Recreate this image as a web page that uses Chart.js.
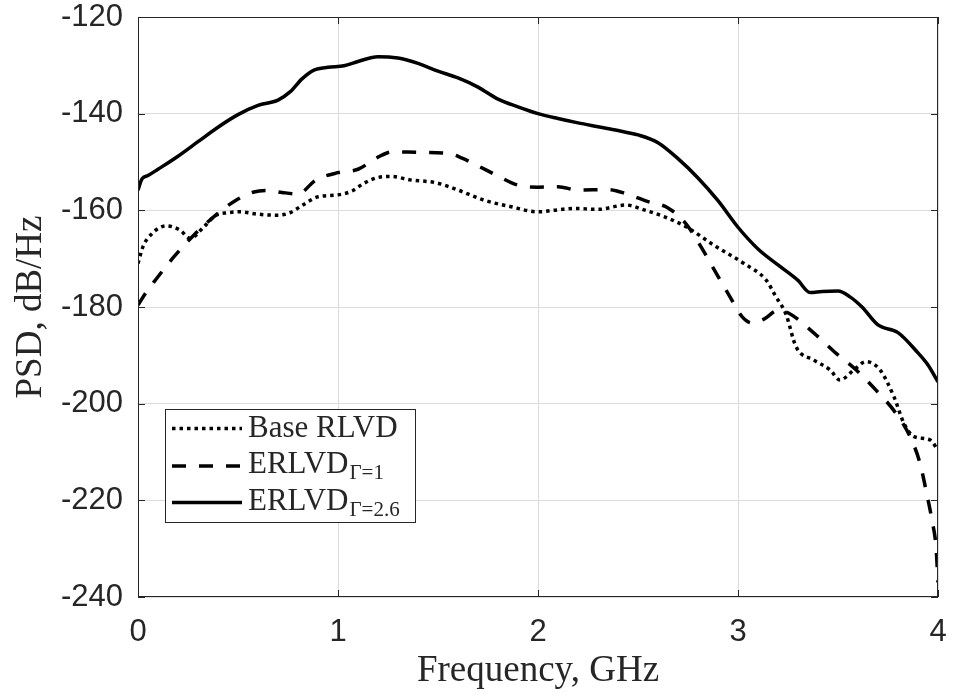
<!DOCTYPE html>
<html>
<head>
<meta charset="utf-8">
<script src="https://cdn.jsdelivr.net/npm/chart.js@4"></script>
<style>
  html, body { margin: 0; padding: 0; background: #ffffff; }
  canvas { display: block; }
</style>
</head>
<body>
<canvas id="c" width="953" height="698"></canvas>
<script>
// ---- Data ----
const xTickLabels = ['0', '1', '2', '3', '4'];
const yTickLabels = ['-240', '-220', '-200', '-180', '-160', '-140', '-120'];

const legendNames = ['Base RLVD', 'ERLVD', 'ERLVD'];
const legendSubs = ['', '\u0393=1', '\u0393=2.6'];

const freqBase = [0, 0.025, 0.07, 0.14, 0.21, 0.26, 0.33, 0.39, 0.45, 0.51, 0.6, 0.7, 0.76, 0.82, 0.9, 1.0, 1.07, 1.13, 1.2, 1.27, 1.36, 1.49, 1.6, 1.73, 1.86, 2.0, 2.1, 2.18, 2.3, 2.44, 2.53, 2.63, 2.74, 2.89, 3.03, 3.14, 3.19, 3.24, 3.29, 3.38, 3.46, 3.51, 3.58, 3.64, 3.71, 3.78, 3.83, 3.88, 3.96, 4.0];
const psdBase = [-171, -167.5, -164.8, -163.2, -164.1, -165.8, -163.4, -161, -160.5, -160.3, -160.8, -161, -160.5, -159, -157.2, -156.8, -156, -154.4, -153.2, -153, -153.7, -154.3, -155.8, -157.9, -159.2, -160.3, -159.9, -159.6, -159.8, -158.9, -159.9, -161.3, -163.4, -167.5, -171, -174.4, -177.9, -181.5, -188.2, -191, -193, -195.1, -193, -191.3, -193, -198.6, -204.1, -206.8, -207.5, -209.6];

const freqG1 = [0, 0.04, 0.08, 0.18, 0.28, 0.38, 0.49, 0.58, 0.65, 0.72, 0.8, 0.89, 1.0, 1.1, 1.2, 1.27, 1.4, 1.55, 1.62, 1.7, 1.8, 1.9, 2.0, 2.1, 2.2, 2.35, 2.45, 2.55, 2.65, 2.74, 2.8, 2.88, 2.96, 3.02, 3.07, 3.13, 3.2, 3.25, 3.38, 3.48, 3.59, 3.69, 3.79, 3.86, 3.91, 3.94, 3.97, 3.99, 4.0];
const psdG1 = [-179.6, -177, -174.8, -169.6, -165.1, -161.3, -157.9, -156.2, -155.9, -156.3, -156.6, -153.7, -152.2, -151.5, -149, -147.9, -148, -148.2, -149.2, -150.8, -152.9, -154.8, -155.2, -155.1, -155.8, -155.7, -156.7, -158.2, -159.5, -162.8, -166.5, -172.2, -177.9, -182.0, -183.3, -182.5, -180.7, -181.2, -185.4, -189.2, -193, -197.2, -202, -206.8, -212.3, -217.9, -224.1, -229.6, -237];

const freqG26 = [0, 0.02, 0.05, 0.1, 0.2, 0.3, 0.4, 0.5, 0.6, 0.7, 0.76, 0.82, 0.88, 0.95, 1.03, 1.1, 1.2, 1.3, 1.4, 1.5, 1.6, 1.7, 1.8, 1.9, 2.0, 2.1, 2.2, 2.3, 2.4, 2.5, 2.6, 2.7, 2.8, 2.9, 3.0, 3.1, 3.2, 3.3, 3.36, 3.42, 3.5, 3.56, 3.62, 3.7, 3.8, 3.9, 3.95, 4.0];
const psdG26 = [-155.8, -153.5, -152.8, -151.5, -148.8, -145.8, -142.8, -140.2, -138.3, -137.2, -135.5, -132.8, -131.0, -130.4, -130.1, -129.2, -128.2, -128.5, -129.6, -131.2, -132.6, -134.5, -137.0, -138.6, -140.0, -141.0, -141.9, -142.7, -143.5, -144.4, -146.0, -149.3, -153.3, -158.0, -163.5, -168.0, -171.3, -174.5, -177.0, -176.8, -176.7, -177.9, -180.0, -183.7, -185.3, -189.5, -192.0, -195.5];

function pts(xs, ys) { return xs.map((x, i) => ({ x: x, y: ys[i] })); }

const INK = '#262626';
const SERIF = '"Liberation Serif", "Times New Roman", serif';
const SANS = '"Liberation Sans", Arial, Helvetica, sans-serif';

const datasets = [
  { label: legendNames[0], data: pts(freqBase, psdBase), borderColor: '#000', borderWidth: 3.5, borderDash: [3.5, 4], borderCapStyle: 'butt' },
  { label: legendNames[1], data: pts(freqG1, psdG1), borderColor: '#000', borderWidth: 3.5, borderDash: [14, 13], borderCapStyle: 'butt' },
  { label: legendNames[2], data: pts(freqG26, psdG26), borderColor: '#000', borderWidth: 3.5, borderDash: [], borderCapStyle: 'butt' }
];
datasets.forEach(d => { d.pointRadius = 0; d.fill = false; d.cubicInterpolationMode = 'monotone'; });

function zeroPad(s) { s.paddingTop = 0; s.paddingBottom = 0; s.paddingLeft = 0; s.paddingRight = 0; }

const decorPlugin = {
  id: 'decor',
  afterDatasetsDraw(chart) {
    const ctx = chart.ctx;
    const a = chart.chartArea;
    const xs = chart.scales.x, ys = chart.scales.y;
    ctx.save();
    ctx.strokeStyle = INK;
    ctx.lineWidth = 1;
    // box
    ctx.strokeRect(Math.round(a.left) + 0.5, Math.round(a.top) + 0.5, Math.round(a.right - a.left) - 1, Math.round(a.bottom - a.top) - 1);
    // inward ticks
    const tl = 7;
    ctx.beginPath();
    xTickLabels.forEach(t => {
      const px = Math.round(xs.getPixelForValue(parseFloat(t))) + 0.5;
      ctx.moveTo(px, a.bottom); ctx.lineTo(px, a.bottom - tl);
      ctx.moveTo(px, a.top); ctx.lineTo(px, a.top + tl);
    });
    yTickLabels.forEach(t => {
      const py = Math.round(ys.getPixelForValue(parseFloat(t))) + 0.5;
      ctx.moveTo(a.left, py); ctx.lineTo(a.left + tl, py);
      ctx.moveTo(a.right, py); ctx.lineTo(a.right - tl, py);
    });
    ctx.stroke();

    // legend
    const bx = 165.5, by = 409.5, bw = 250, bh = 113;
    ctx.fillStyle = '#ffffff';
    ctx.fillRect(bx, by, bw, bh);
    ctx.strokeStyle = INK;
    ctx.lineWidth = 1;
    ctx.strokeRect(bx, by, bw, bh);
    const lineY = [428.5, 466, 502.5];
    const baseY = [437, 473, 510];
    chart.data.datasets.forEach((d, i) => {
      ctx.save();
      ctx.strokeStyle = d.borderColor;
      ctx.lineWidth = d.borderWidth;
      ctx.setLineDash(d.borderDash || []);
      ctx.lineCap = 'butt';
      ctx.beginPath();
      ctx.moveTo(172, lineY[i]);
      ctx.lineTo(242, lineY[i]);
      ctx.stroke();
      ctx.restore();
      ctx.fillStyle = INK;
      ctx.textBaseline = 'alphabetic';
      ctx.textAlign = 'left';
      ctx.font = '31px ' + SERIF;
      ctx.fillText(legendNames[i], 248, baseY[i]);
      if (legendSubs[i]) {
        const w = ctx.measureText(legendNames[i]).width;
        ctx.font = '21px ' + SERIF;
        ctx.fillText(legendSubs[i], 248 + w + 1, baseY[i] + 6);
      }
    });
    ctx.restore();
  }
};

new Chart(document.getElementById('c'), {
  type: 'line',
  data: { datasets: datasets },
  options: {
    responsive: false,
    animation: false,
    layout: { padding: { top: 17, right: 15, left: 0, bottom: 0 } },
    plugins: { legend: { display: false }, tooltip: { enabled: false } },
    scales: {
      x: {
        type: 'linear',
        min: 0, max: 4,
        afterFit(s) { s.height = 101; zeroPad(s); },
        afterBuildTicks(s) { s.ticks = xTickLabels.map(t => ({ value: parseFloat(t) })); },
        ticks: {
          padding: 20,
          color: INK,
          font: { family: SANS, size: 31, lineHeight: 1 },
          callback: (v) => String(v)
        },
        grid: { color: '#dcdcdc', lineWidth: 1, drawTicks: false },
        border: { display: false },
        title: {
          display: true,
          text: 'Frequency, GHz',
          color: INK,
          font: { family: SERIF, size: 37, lineHeight: 1.2 },
          padding: { top: 5, bottom: 5 }
        }
      },
      y: {
        type: 'linear',
        min: -240, max: -120,
        afterFit(s) { s.width = 138; zeroPad(s); },
        afterBuildTicks(s) { s.ticks = yTickLabels.map(t => ({ value: parseFloat(t) })); },
        ticks: {
          padding: 15,
          color: INK,
          font: { family: SANS, size: 31, lineHeight: 1 },
          callback: (v) => String(v)
        },
        grid: { color: '#dcdcdc', lineWidth: 1, drawTicks: false },
        border: { display: false },
        title: {
          display: true,
          text: 'PSD, dB/Hz',
          color: INK,
          font: { family: SERIF, size: 37, lineHeight: 1.2 },
          padding: { top: 9, bottom: 9 }
        }
      }
    }
  },
  plugins: [decorPlugin]
});
</script>
</body>
</html>
